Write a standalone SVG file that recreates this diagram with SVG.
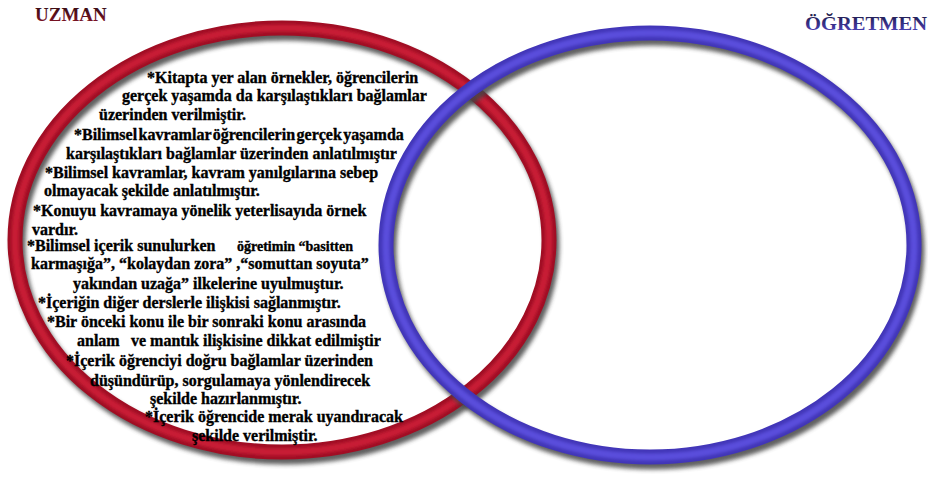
<svg xmlns="http://www.w3.org/2000/svg" width="928" height="483" viewBox="0 0 928 483">
  <defs>
    <filter id="blur" x="-10%" y="-10%" width="120%" height="120%">
      <feGaussianBlur stdDeviation="2.2"/>
    </filter>
    <filter id="soft" x="-10%" y="-10%" width="120%" height="120%">
      <feGaussianBlur stdDeviation="1.6"/>
    </filter>
    <linearGradient id="gU" x1="0" y1="0" x2="0" y2="1">
      <stop offset="0" stop-color="#2a0a10"/>
      <stop offset="1" stop-color="#8a1426"/>
    </linearGradient>
    <linearGradient id="gO" x1="0" y1="0" x2="0" y2="1">
      <stop offset="0" stop-color="#1a1840"/>
      <stop offset="1" stop-color="#5246c8"/>
    </linearGradient>
  </defs>
  <style>
    .shadow { fill: none; stroke: #454545; stroke-width: 15; opacity: 0.85; }
    .redBase { fill: none; stroke: #a00e24; stroke-width: 15; }
    .redHi { fill: none; stroke: #c81d36; stroke-width: 7; }
    .blueBase { fill: none; stroke: #4236b8; stroke-width: 15; }
    .blueHi { fill: none; stroke: #5a4edc; stroke-width: 7; }
    .t { font-family: "Liberation Serif", "Times New Roman", serif; font-weight: bold; font-size: 16px; fill: #000; stroke: #000; stroke-width: 0.35; }
    .ts { font-size: 14px; }
    .title { font-family: "Liberation Serif", "Times New Roman", serif; font-weight: bold; font-size: 19px; }
  </style>
  <rect width="928" height="483" fill="#ffffff"/>

  <g id="uzman">
    <ellipse class="shadow" cx="285" cy="245" rx="267" ry="212" filter="url(#blur)"/>
    <ellipse class="redBase" cx="282" cy="240" rx="267" ry="212"/>
    <ellipse class="redHi" cx="282" cy="240" rx="267" ry="212" filter="url(#soft)"/>
    <text class="title" x="35" y="21" fill="url(#gU)">UZMAN</text>
  </g>

  <g id="ogretmen">
    <ellipse class="shadow" cx="653" cy="250" rx="264" ry="212" filter="url(#blur)"/>
    <ellipse class="blueBase" cx="650" cy="245" rx="264" ry="212"/>
    <ellipse class="blueHi" cx="650" cy="245" rx="264" ry="212" filter="url(#soft)"/>
    <text class="title" x="805" y="30" fill="url(#gO)" textLength="122" lengthAdjust="spacingAndGlyphs">ÖĞRETMEN</text>
  </g>

  <g id="uzman-text">
    <text class="t" x="147" y="83">*Kitapta yer alan örnekler, öğrencilerin</text>
    <text class="t" x="122" y="101">gerçek yaşamda da karşılaştıkları bağlamlar</text>
    <text class="t" x="99" y="120">üzerinden verilmiştir.</text>
    <text class="t" x="74" y="140" word-spacing="-2.5">*Bilimsel kavramlar öğrencilerin gerçek yaşamda</text>
    <text class="t" x="66" y="159">karşılaştıkları bağlamlar üzerinden anlatılmıştır</text>
    <text class="t" x="45" y="178">*Bilimsel kavramlar, kavram yanılgılarına sebep</text>
    <text class="t" x="44" y="196">olmayacak şekilde anlatılmıştır.</text>
    <text class="t" x="33" y="216">*Konuyu kavramaya yönelik yeterlisayıda örnek</text>
    <text class="t" x="32" y="235">vardır.</text>
    <text class="t" x="27" y="251">*Bilimsel içerik sunulurken</text>
    <text class="t ts" x="237" y="251">öğretimin “basitten</text>
    <text class="t" x="31" y="269">karmaşığa”, “kolaydan zora” ,“somuttan soyuta”</text>
    <text class="t" x="73" y="289">yakından uzağa” ilkelerine uyulmuştur.</text>
    <text class="t" x="38" y="308">*İçeriğin diğer derslerle ilişkisi sağlanmıştır.</text>
    <text class="t" x="47" y="327">*Bir önceki konu ile bir sonraki konu arasında</text>
    <text class="t" x="77" y="346">anlam</text>
    <text class="t" x="131" y="346">ve mantık ilişkisine dikkat edilmiştir</text>
    <text class="t" x="66" y="366">*İçerik öğrenciyi doğru bağlamlar üzerinden</text>
    <text class="t" x="90" y="386">düşündürüp, sorgulamaya yönlendirecek</text>
    <text class="t" x="150" y="404">şekilde hazırlanmıştır.</text>
    <text class="t" x="145" y="422">*İçerik öğrencide merak uyandıracak</text>
    <text class="t" x="192" y="441">şekilde verilmiştir.</text>
  </g>
</svg>
